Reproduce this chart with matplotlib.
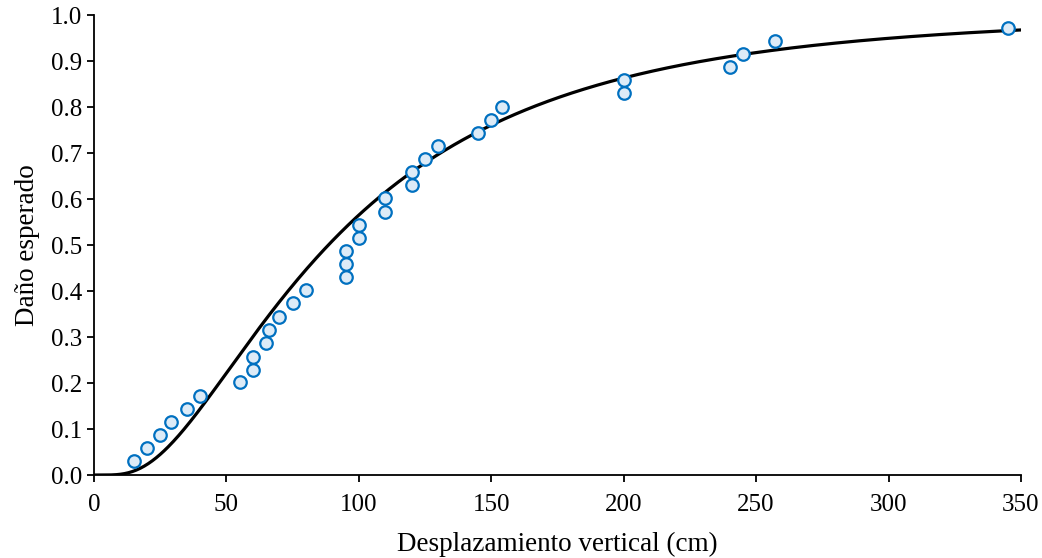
import numpy as np
import matplotlib
matplotlib.use('Agg')
import matplotlib.pyplot as plt
from math import erf

plt.rcParams['font.family'] = ['Liberation Serif', 'DejaVu Serif']

# Observed points
desplazamiento = [15, 20, 25, 29, 35, 40, 55, 60, 60, 65, 66, 70, 75, 80,
                  95, 95, 95, 100, 100, 110, 110, 120, 120, 125, 130,
                  145, 150, 154, 200, 200, 240, 245, 257, 345]
dano = [0.030, 0.059, 0.087, 0.115, 0.143, 0.172, 0.202, 0.228, 0.257,
        0.287, 0.315, 0.343, 0.374, 0.402, 0.430, 0.459, 0.487, 0.515,
        0.543, 0.572, 0.602, 0.630, 0.659, 0.687, 0.715, 0.743, 0.772,
        0.800, 0.830, 0.859, 0.887, 0.915, 0.943, 0.972]

# Fitted lognormal fragility curve (median, beta)
mediana = 88.5
beta = 0.745

x_curve = np.linspace(0.5, 350, 700)
y_curve = np.array([0.5 * (1 + erf(np.log(v / mediana) / (beta * np.sqrt(2)))) for v in x_curve])

fig = plt.figure(figsize=(10.42, 5.58), dpi=100)
ax = fig.add_axes([0.0902, 0.1487, 0.8896, 0.8244])

ax.plot(x_curve, y_curve, color='black', lw=2.3, zorder=2)
ax.plot(desplazamiento, dano, 'o', ms=9, mfc='#DDEBF7', mec='#0070C0', mew=1.6,
        ls='none', zorder=3, clip_on=False)

ax.set_xlim(0, 350)
ax.set_ylim(0, 1.0)
ax.set_xticks(np.arange(0, 351, 50))
ax.set_yticks(np.arange(0, 1.01, 0.1))
ax.set_yticklabels([f'{v:.1f}' for v in np.arange(0, 1.01, 0.1)])

for s in ['top', 'right']:
    ax.spines[s].set_visible(False)
for s in ['left', 'bottom']:
    ax.spines[s].set_linewidth(1.3)
ax.tick_params(direction='out', length=5, width=1.3, labelsize=18)
ax.tick_params(axis='x', pad=9)

ax.set_xlabel('Desplazamiento vertical (cm)', fontsize=19.5, labelpad=11)
ax.set_ylabel('Daño esperado', fontsize=19.5, labelpad=8)

plt.savefig('out.png', dpi=100)
plt.close()
